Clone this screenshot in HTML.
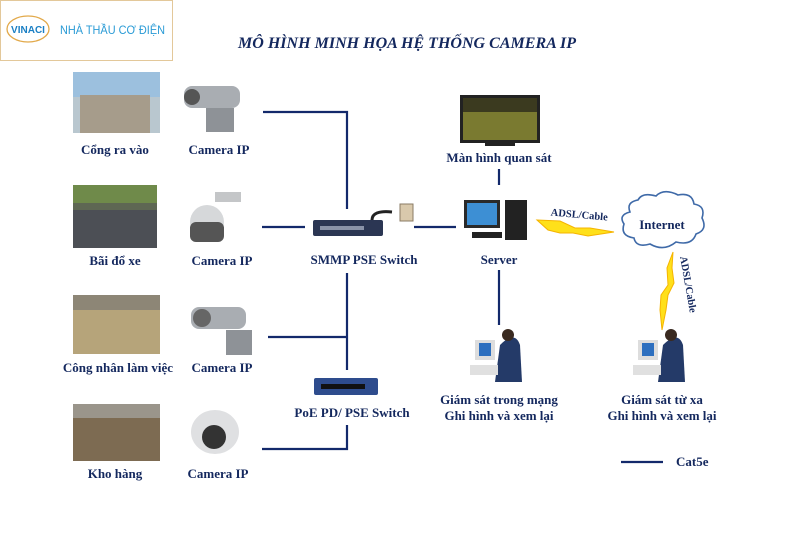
<!DOCTYPE html>
<html><head><meta charset="utf-8">
<style>
html,body{margin:0;padding:0;background:#fff;}
svg{display:block}
text{font-family:"Liberation Serif",serif;font-weight:bold;fill:#14285e;font-size:13px}
</style></head><body>
<svg width="787" height="534" viewBox="0 0 787 534" xmlns="http://www.w3.org/2000/svg">
<!-- logo -->
<rect x="0.5" y="0.5" width="172" height="60" fill="#fff" stroke="#e3c89a"/>
<ellipse cx="28" cy="29" rx="21" ry="13" fill="#fff" stroke="#e2a94a" stroke-width="1.3"/>
<text x="28" y="33" text-anchor="middle" style="font-family:'Liberation Sans',sans-serif;font-size:10px;fill:#1a7fc4">VINACI</text>
<text x="60" y="34" textLength="105" lengthAdjust="spacingAndGlyphs" style="font-family:'Liberation Sans',sans-serif;font-weight:normal;font-size:12px;fill:#2a9bd6">NHÀ THẦU CƠ ĐIỆN</text>
<!-- title -->
<text x="407" y="48" text-anchor="middle" textLength="338" lengthAdjust="spacingAndGlyphs" style="font-style:italic;font-size:15.5px;fill:#14285e">MÔ HÌNH MINH HỌA HỆ THỐNG CAMERA IP</text>

<!-- lines -->
<g stroke="#13296b" stroke-width="2.2" fill="none">
<polyline points="263,112 347,112 347,209"/>
<line x1="262" y1="227" x2="305" y2="227"/>
<line x1="414" y1="227" x2="456" y2="227"/>
<line x1="499" y1="169" x2="499" y2="185"/>
<line x1="499" y1="270" x2="499" y2="325"/>
<line x1="347" y1="273" x2="347" y2="370"/>
<line x1="268" y1="337" x2="347" y2="337"/>
<polyline points="347,425 347,449 262,449"/>
<line x1="621" y1="462" x2="663" y2="462"/>
</g>

<!-- photos -->
<rect x="73" y="72" width="87" height="61" fill="#b9c7cf"/>
<rect x="73" y="72" width="87" height="25" fill="#9cc0de"/>
<rect x="80" y="95" width="70" height="38" fill="#a69c8b"/>
<rect x="73" y="185" width="84" height="63" fill="#5e6753"/>
<rect x="73" y="185" width="84" height="18" fill="#6f8a4a"/>
<rect x="73" y="210" width="84" height="38" fill="#4c4f55"/>
<rect x="73" y="295" width="87" height="59" fill="#8d8676"/>
<rect x="73" y="310" width="87" height="44" fill="#b6a47a"/>
<rect x="73" y="404" width="87" height="57" fill="#7d6b52"/>
<rect x="73" y="404" width="87" height="14" fill="#9a958b"/>

<!-- cameras -->
<g fill="#a9adb2">
<rect x="184" y="86" width="56" height="22" rx="8"/><circle cx="192" cy="97" r="8" fill="#555"/>
<rect x="206" y="108" width="28" height="24" fill="#8e9297"/>
<circle cx="207" cy="222" r="17" fill="#d6d8da"/><rect x="190" y="222" width="34" height="20" rx="6" fill="#555"/>
<rect x="215" y="192" width="26" height="10" fill="#c4c6c8"/>
<rect x="191" y="307" width="55" height="22" rx="8"/><circle cx="202" cy="318" r="9" fill="#666"/>
<rect x="226" y="330" width="26" height="25" fill="#8e9297"/>
<ellipse cx="215" cy="432" rx="24" ry="22" fill="#dfe0e2"/><circle cx="214" cy="437" r="12" fill="#333"/>
</g>

<!-- switches -->
<rect x="313" y="220" width="70" height="16" rx="2" fill="#2b3653"/>
<rect x="320" y="226" width="44" height="4" fill="#8a93a8"/>
<path d="M372 220 Q372 210 392 212" stroke="#222" stroke-width="3" fill="none"/>
<rect x="400" y="204" width="13" height="17" fill="#d9c9ac" stroke="#8a7b64"/>
<rect x="314" y="378" width="64" height="17" rx="2" fill="#2e4c8d"/>
<rect x="321" y="384" width="44" height="5" fill="#111"/>

<!-- TV -->
<rect x="460" y="95" width="80" height="48" fill="#222"/>
<rect x="463" y="98" width="74" height="42" fill="#7a7a30"/>
<rect x="463" y="98" width="74" height="14" fill="#3b3a1f"/>
<rect x="485" y="143" width="30" height="3" fill="#222"/>
<!-- server -->
<rect x="464" y="200" width="36" height="28" fill="#2a2a2a"/><rect x="467" y="203" width="30" height="22" fill="#3d8fd4"/>
<rect x="472" y="232" width="30" height="6" fill="#222"/>
<rect x="505" y="200" width="22" height="40" fill="#222"/>

<!-- operators -->
<g>
<rect x="475" y="340" width="20" height="20" fill="#ddd"/><rect x="479" y="343" width="12" height="13" fill="#2d6fbf"/>
<path d="M500 345 Q515 330 520 345 L522 382 L495 382 Z" fill="#243a68"/><circle cx="508" cy="335" r="6" fill="#3a2a20"/>
<rect x="470" y="365" width="28" height="10" fill="#e0e0e0"/>
<rect x="638" y="340" width="20" height="20" fill="#ddd"/><rect x="642" y="343" width="12" height="13" fill="#2d6fbf"/>
<path d="M663 345 Q678 330 683 345 L685 382 L658 382 Z" fill="#243a68"/><circle cx="671" cy="335" r="6" fill="#3a2a20"/>
<rect x="633" y="365" width="28" height="10" fill="#e0e0e0"/>
</g>

<!-- lightning -->
<polygon points="537,220 560,221 575,228 590,228 614,232 588,236 573,233 560,233 548,230" fill="#ffe01a" stroke="#f5b400" stroke-width="1"/>
<polygon points="673,252 667,268 668,285 661,295 660,310 662,330 666,310 668,295 674,283 672,268" fill="#ffe01a" stroke="#f5b400" stroke-width="1"/>
<text x="579" y="218" text-anchor="middle" transform="rotate(5 579 218)" style="font-size:10.5px">ADSL/Cable</text>
<text x="685" y="285" text-anchor="middle" transform="rotate(80 685 285)" style="font-size:10.5px">ADSL/Cable</text>

<!-- cloud -->
<path d="M630 212 Q626 202 638 200 Q642 192 656 196 Q664 188 678 195 Q692 192 694 204 Q706 206 702 218 Q708 230 696 234 Q692 246 676 242 Q664 252 650 244 Q636 248 634 238 Q620 236 624 224 Q618 215 630 212 Z" fill="#fff" stroke="#3f6aa8" stroke-width="1.6"/>
<text x="662" y="229" text-anchor="middle">Internet</text>

<!-- labels -->
<text x="115" y="154" text-anchor="middle">Cổng ra vào</text>
<text x="219" y="154" text-anchor="middle">Camera IP</text>
<text x="115" y="265" text-anchor="middle">Bãi đổ xe</text>
<text x="222" y="265" text-anchor="middle">Camera IP</text>
<text x="118" y="372" text-anchor="middle">Công nhân làm việc</text>
<text x="222" y="372" text-anchor="middle">Camera IP</text>
<text x="115" y="478" text-anchor="middle">Kho hàng</text>
<text x="218" y="478" text-anchor="middle">Camera IP</text>
<text x="364" y="264" text-anchor="middle">SMMP PSE Switch</text>
<text x="352" y="417" text-anchor="middle">PoE PD/ PSE Switch</text>
<text x="499" y="162" text-anchor="middle">Màn hình quan sát</text>
<text x="499" y="264" text-anchor="middle">Server</text>
<text x="499" y="404" text-anchor="middle">Giám sát trong mạng</text>
<text x="499" y="420" text-anchor="middle">Ghi hình và xem lại</text>
<text x="662" y="404" text-anchor="middle">Giám sát từ xa</text>
<text x="662" y="420" text-anchor="middle">Ghi hình và xem lại</text>
<text x="676" y="466">Cat5e</text>
</svg>
</body></html>
